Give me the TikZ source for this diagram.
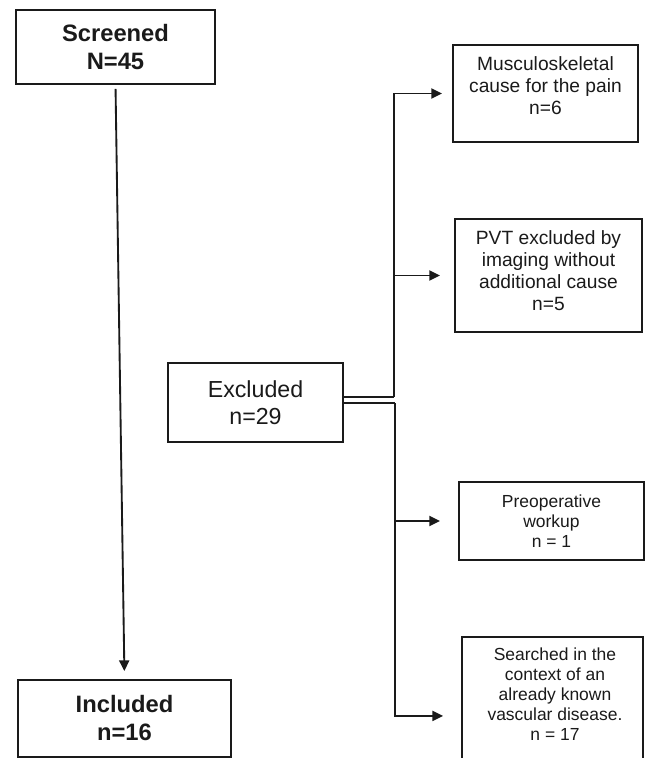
\documentclass[tikz,border=0pt]{standalone}
\usepackage{fontspec}
\setmainfont{Liberation Sans}
\usetikzlibrary{arrows.meta}
\definecolor{ink}{HTML}{1A1A1A}
\tikzset{
  box/.style={draw=ink, line width=1.4pt, align=center, inner sep=0pt, text=ink},
  big/.style={font=\fontsize{17.8pt}{21pt}\selectfont\bfseries},
  mid/.style={font=\fontsize{17.4pt}{20.3pt}\selectfont},
  med/.style={font=\fontsize{14.4pt}{16.5pt}\selectfont},
  sml/.style={font=\fontsize{13.1pt}{15pt}\selectfont},
  conn/.style={draw=ink, line width=1.4pt},
  arr/.style={conn, -{Triangle[length=8pt, width=7.5pt]}}
}
\begin{document}
\begin{tikzpicture}[x=0.75pt, y=-0.75pt]
\useasboundingbox (0,0) rectangle (648,758);
\clip (0,0) rectangle (648,758);
% main column
\node[box, big, minimum width=199*0.75pt, minimum height=74*0.75pt] (scr) at (115.5,47) {Screened\\N=45};
\node[box, big, minimum width=213*0.75pt, minimum height=77*0.75pt] (inc) at (124.5,718.5) {Included\\n=16};
\node[box, mid, minimum width=175*0.75pt, minimum height=79*0.75pt] (exc) at (255.5,402.5) {Excluded\\n=29};
% exclusion reasons
\node[box, med, minimum width=185*0.75pt, minimum height=97*0.75pt] (musc) at (545.5,93.5) {Musculoskeletal\\cause for the pain\\n=6\\[-4.5pt]\mbox{}};
\node[box, med, minimum width=187*0.75pt, minimum height=113*0.75pt] (pvt) at (548.5,275.5) {PVT excluded by\\imaging without\\additional cause\\n=5\\[-9pt]\mbox{}};
\node[box, sml, minimum width=185*0.75pt, minimum height=78*0.75pt] (pre) at (551.5,521) {Preoperative\\workup\\n = 1};
\node[box, minimum width=181*0.75pt, minimum height=158*0.75pt, anchor=north] (last) at (552.5,636) {};
\node[sml, align=center, text=ink, inner sep=0pt] (lasttxt) at (555,694) {Searched in the\\context of an\\already known\\vascular disease.\\n = 17};
% main arrow
\draw[arr, shorten <=3pt, shorten >=6pt] (scr.south) -- (inc.north);
% branches
\coordinate (ju) at (394,397);
\coordinate (jl) at (395,403);
\draw[conn] (exc.east |- ju) -- (ju);
\draw[conn] (exc.east |- jl) -- (jl);
\draw[arr, shorten >=7.5pt] (ju) |- (musc.west);
\draw[arr, shorten >=10.5pt] (ju |- pvt.west) -- (pvt.west);
\draw[arr, shorten >=13.5pt] (jl) |- (last.west);
\draw[arr, shorten >=13.5pt] (jl |- pre.west) -- (pre.west);
\end{tikzpicture}
\end{document}
